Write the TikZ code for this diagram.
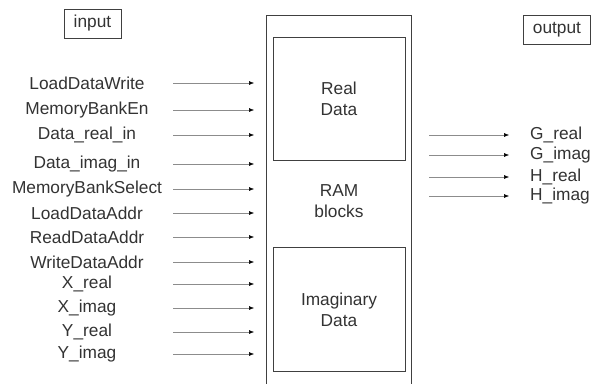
\documentclass[tikz,border=0pt]{standalone}
\usepackage{fontspec}
\setmainfont{Liberation Sans}
\usetikzlibrary{arrows.meta}
\begin{document}
\begin{tikzpicture}[x=1pt,y=-1pt,
  every node/.style={font=\fontsize{17.3}{20}\selectfont, text=black!80, inner sep=0pt},
  lbl/.style={anchor=center},
  olbl/.style={anchor=west},
  tagbox/.style={draw=black!75, line width=0.9pt, minimum height=29pt, inner xsep=8pt},
  blk/.style={draw=black!75, line width=1pt},
  sig/.style={draw=black!45, line width=0.5pt, -{Latex[length=5pt,width=4pt,black]}},
  ctext/.style={align=center, font=\fontsize{17.3}{20.5}\selectfont}
]
\useasboundingbox (0,0) rectangle (591,383);
\fill[white] (0,0) rectangle (591,383);

% headers
\node[tagbox, minimum width=57pt] (in) at (92.5,23.5) {input};
\node[tagbox, minimum width=67pt, anchor=west] (out) at (523,29.5) {output};

% RAM block (open at the bottom)
\draw[blk] (266,384) -- (266,15) -- (411,15) -- (411,384);
\draw[blk] (273,37) rectangle (405,160);
\draw[blk] (273,247) rectangle (405,371);
\node[ctext] (real) at (339,99) {Real\\Data};
\node[ctext] (ram) at (339,201) {RAM\\blocks};
\node[ctext] (imag) at (339,310) {Imaginary\\Data};

% input signals
\foreach \n/\y/\t in {
  i1/83/LoadDataWrite,
  i2/110/MemoryBankEn,
  i3/135/Data\_real\_in,
  i4/164/Data\_imag\_in,
  i5/189/MemoryBankSelect,
  i6/213/LoadDataAddr,
  i7/237/ReadDataAddr,
  i8/262/WriteDataAddr,
  i9/284/X\_real,
  i10/308/X\_imag,
  i11/332/Y\_real,
  i12/354/Y\_imag}{
  \node[lbl] (\n) at (87,\y) {\t};
  \coordinate (\n s) at (173,\y);
  \coordinate (\n e) at (254,\y);
  \draw[sig] (\n s) -- (\n e);
}

% output signals
\foreach \n/\y/\t in {
  o1/135/G\_real,
  o2/155/G\_imag,
  o3/177/H\_real,
  o4/196/H\_imag}{
  \coordinate (\n s) at (429,\y);
  \coordinate (\n e) at (509,\y);
  \draw[sig] (\n s) -- (\n e);
  \node[olbl] (\n) at (530,\y) {\t};
}
\end{tikzpicture}
\end{document}
